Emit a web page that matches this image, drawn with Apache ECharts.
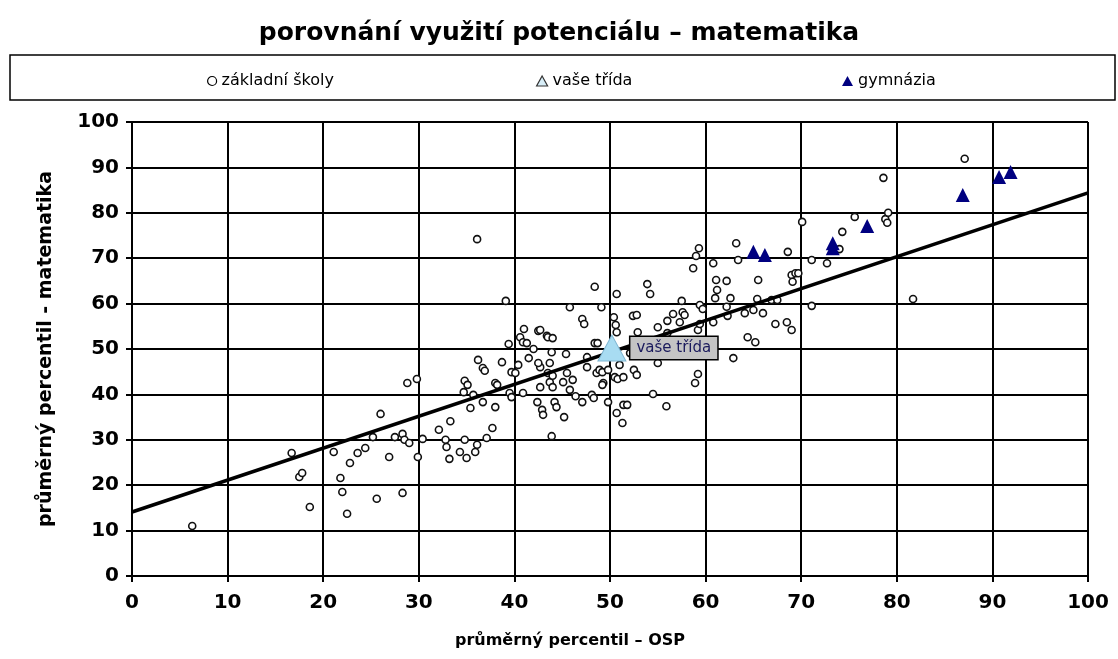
<!DOCTYPE html>
<html>
<head>
<meta charset="utf-8">
<script src="https://cdn.jsdelivr.net/npm/echarts@6/dist/echarts.min.js"></script>
<style>html,body{margin:0;padding:0;background:#fff;}#chart{width:1118px;height:659px;}</style>
</head>
<body>
<div id="chart"></div>
<script>
// základní školy (x = průměrný percentil OSP, y = průměrný percentil matematika)
var zsX = [6.3,16.7,17.5,17.8,18.6,21.1,21.8,22.0,22.5,22.8,23.6,24.4,25.2,25.6,26.0,26.9,27.5,28.3,28.3,28.5,29.0,29.9,30.4,28.8,29.8,32.1,32.8,32.9,33.2,33.3,34.3,34.8,35.0,35.9,36.1,34.7,34.8,35.1,35.7,36.1,36.2,36.7,36.9,36.7,37.1,37.7,38.0,38.2,38.0,35.4,38.7,39.1,39.4,39.5,39.7,39.7,40.1,40.4,40.6,40.9,40.9,41.0,41.3,41.5,42.0,42.5,42.4,42.7,42.9,43.0,43.4,43.7,43.7,44.0,43.9,43.9,43.5,44.0,44.2,44.4,45.1,45.2,45.4,45.5,45.8,45.8,46.1,46.4,47.1,47.3,47.1,47.6,47.6,48.1,48.3,48.4,48.4,48.7,48.6,48.9,49.2,49.1,49.3,49.2,49.8,49.8,50.4,50.6,50.7,50.7,50.5,50.8,51.0,51.4,50.7,51.4,51.3,51.8,52.1,52.4,52.8,52.5,52.8,52.9,53.9,54.2,54.5,55.0,55.0,55.9,56.0,56.0,56.6,57.3,57.5,57.6,57.8,58.7,58.9,59.0,59.2,59.2,59.3,59.4,59.7,59.4,60.8,60.8,61.0,61.1,61.2,62.2,62.2,62.6,62.3,62.9,63.2,63.4,64.1,64.4,65.0,65.2,65.4,65.5,66.0,66.9,67.5,67.3,68.5,68.6,69.0,69.0,69.4,69.7,69.1,70.1,71.1,71.1,72.7,74.0,74.3,75.6,78.6,78.8,79.0,79.1,81.7,87.1,42.7,43.5,44.0,42.7,42.5];
var zsY = [11.0,27.1,21.8,22.7,15.2,27.3,21.6,18.5,13.7,24.9,27.1,28.2,30.6,17.0,35.7,26.2,30.6,31.3,18.3,30.0,29.3,26.2,30.2,42.5,43.4,32.2,30.0,28.4,25.8,34.1,27.3,30.0,26.0,27.3,28.9,40.5,43.0,42.1,39.9,74.2,47.6,45.8,45.2,38.3,30.4,32.6,42.5,42.1,37.2,37.0,47.1,60.6,51.1,40.3,39.4,44.9,44.7,46.5,52.6,51.5,40.3,54.4,51.3,48.0,50.0,54.0,38.3,41.6,36.6,35.5,52.9,46.9,42.7,41.6,49.3,30.8,52.6,52.4,38.3,37.2,42.7,35.0,48.9,44.7,59.2,41.0,43.2,39.6,56.6,55.5,38.3,48.2,46.0,39.9,39.2,63.7,51.3,51.3,44.7,45.4,44.9,59.2,42.5,42.1,45.4,38.3,57.0,55.3,53.7,62.1,43.8,43.4,46.5,43.8,35.9,37.7,33.7,37.7,49.1,57.3,57.5,45.4,44.3,53.7,64.3,62.1,40.1,54.8,46.9,37.4,53.5,56.2,57.7,55.9,60.6,58.1,57.5,67.8,42.5,70.5,54.2,44.5,72.2,59.7,58.8,55.5,68.9,55.9,61.2,65.2,63.0,59.3,65.0,61.2,57.3,48.0,73.3,69.6,57.9,52.6,58.6,51.5,61.0,65.2,57.9,60.8,60.8,55.5,55.9,71.4,54.2,66.3,66.7,66.7,64.8,78.0,69.6,59.5,68.9,72.0,75.8,79.1,87.7,78.6,77.8,80.0,61.0,91.9,46.0,44.7,44.1,54.2,46.9];
// vaše třída
var tridaX = [50.2];
var tridaY = [50.2];
// gymnázia
var gymX = [65.0,66.2,73.3,73.3,76.9,86.9,90.7,91.9];
var gymY = [71.4,70.7,73.3,72.2,77.1,83.9,87.9,89.0];
// regresní přímka
var trendX = [0,100];
var trendY = [14.1,84.4];
// popisky
var titleText = 'porovnání využití potenciálu – matematika';
var seriesNames = ['základní školy','vaše třída','gymnázia'];
var xName = 'průměrný percentil – OSP';
var yName = 'průměrný percentil - matematika';

function pairs(xs, ys){ return xs.map(function(x,i){ return [x, ys[i]]; }); }

var FONT = 'DejaVu Sans';
var legendText = {fontFamily:FONT,fontSize:16,color:'#000'};
var chart = echarts.init(document.getElementById('chart'), null, {renderer:'canvas'});
chart.setOption({
  backgroundColor:'#fff',
  animation:false,
  title:{text:titleText,left:'center',top:16,textStyle:{fontFamily:FONT,fontSize:25,fontWeight:'bold',color:'#000'}},
  graphic:[{type:'rect',shape:{x:10,y:55,width:1105,height:45},style:{fill:'#fff',stroke:'#000',lineWidth:1.5},z:-1}],
  legend:[
    {left:202, top:68, itemWidth:9, itemHeight:9, textStyle:legendText,
      data:[{name:seriesNames[0],icon:'circle',itemStyle:{color:'#fff',borderColor:'#000',borderWidth:1.2}}]},
    {left:531, top:68, itemWidth:11, itemHeight:10, textStyle:legendText,
      data:[{name:seriesNames[1],icon:'triangle',itemStyle:{color:'#d8eef8',borderColor:'#333',borderWidth:1.2}}]},
    {left:837, top:68, itemWidth:11, itemHeight:10, textStyle:legendText,
      data:[{name:seriesNames[2],icon:'triangle',itemStyle:{color:'#000080',opacity:1}}]}
  ],
  grid:{left:132,top:122,width:956,height:454,containLabel:false},
  xAxis:{
    type:'value',min:0,max:100,interval:10,
    name:xName,nameLocation:'middle',nameGap:57,
    nameTextStyle:{fontFamily:FONT,fontSize:16,fontWeight:'bold',color:'#000',padding:[0,80,0,0]},
    axisLine:{lineStyle:{color:'#000',width:2}},
    axisTick:{show:true,inside:false,length:6,lineStyle:{color:'#000',width:2}},
    axisLabel:{fontFamily:FONT,fontSize:20,fontWeight:'bold',color:'#000',margin:17},
    splitLine:{show:true,lineStyle:{color:'#000',width:2}}
  },
  yAxis:{
    type:'value',min:0,max:100,interval:10,
    name:yName,nameLocation:'middle',nameGap:76,
    nameTextStyle:{fontFamily:FONT,fontSize:19,fontWeight:'bold',color:'#000'},
    axisLine:{show:true,lineStyle:{color:'#000',width:2}},
    axisTick:{show:true,inside:false,length:6,lineStyle:{color:'#000',width:2}},
    axisLabel:{fontFamily:FONT,fontSize:20,fontWeight:'bold',color:'#000',margin:13},
    splitLine:{show:true,lineStyle:{color:'#000',width:2}}
  },
  series:[
    {name:seriesNames[0],type:'scatter',data:pairs(zsX,zsY),symbol:'circle',symbolSize:7,z:2,
      itemStyle:{color:'#fff',borderColor:'#111',borderWidth:1.6,opacity:1}},
    {name:'trend',type:'line',data:pairs(trendX,trendY),symbol:'none',z:3,silent:true,
      lineStyle:{color:'#000',width:3.5}},
    {name:seriesNames[1],type:'scatter',data:pairs(tridaX,tridaY),symbol:'triangle',symbolSize:[28,26],z:5,
      itemStyle:{color:'#a8dcf2',borderColor:'#7fb6d2',borderWidth:1,opacity:1},
      label:{show:true,position:'right',distance:4,formatter:seriesNames[1],fontFamily:FONT,fontSize:15,color:'#1a1a5c',
        backgroundColor:'#c4c4c4',borderColor:'#000',borderWidth:1.5,padding:[4,6,3,6]}},
    {name:seriesNames[2],type:'scatter',data:pairs(gymX,gymY),symbol:'triangle',symbolSize:[14,14],z:4,
      itemStyle:{color:'#000080',opacity:1}}
  ]
});
</script>
</body>
</html>
